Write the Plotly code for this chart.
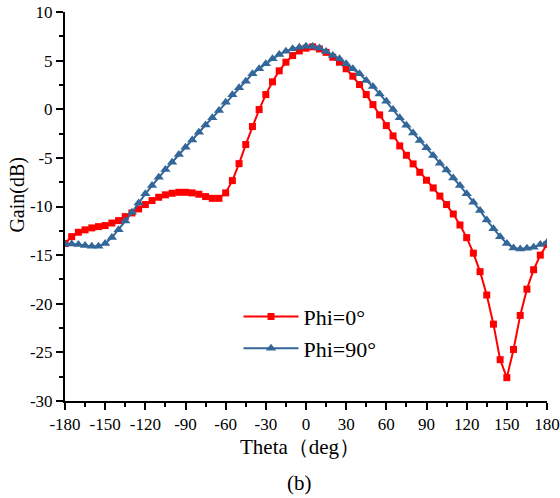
import plotly.graph_objects as go

theta = list(range(-180, 181, 5))

gain_phi0 = [
    -13.8, -13.1, -12.65, -12.4, -12.2, -12.07, -11.96, -11.7, -11.45, -11.04,
    -10.66, -10.25, -9.8, -9.39, -9.05, -8.8, -8.64, -8.54, -8.54, -8.6,
    -8.74, -8.98, -9.16, -9.16, -8.6, -7.34, -5.59, -3.63, -1.78, -0.03,
    1.51, 2.82, 3.95, 4.84, 5.52, 6.0, 6.28, 6.42, 6.2, 5.85,
    5.35, 4.84, 4.16, 3.4, 2.54, 1.51, 0.48, -0.58, -1.68, -2.74,
    -3.77, -4.73, -5.62, -6.48, -7.3, -8.09, -8.93, -9.8, -10.77, -11.9,
    -13.2, -14.8, -16.7, -19.1, -22.1, -25.75, -27.6, -24.7, -21.2, -18.5,
    -16.5, -15.0, -13.9,
]

gain_phi90 = [
    -13.85, -13.85, -13.9, -14.0, -14.1, -14.1, -13.8, -13.2, -12.4, -11.5,
    -10.6, -9.63, -8.7, -7.85, -7.0, -6.2, -5.45, -4.66, -3.91, -3.15,
    -2.37, -1.62, -0.88, -0.13, 0.72, 1.48, 2.2, 2.88, 3.64, 4.16,
    4.67, 5.18, 5.63, 5.97, 6.21, 6.38, 6.48, 6.45, 6.3, 5.95,
    5.52, 5.18, 4.67, 4.16, 3.64, 2.95, 2.34, 1.58, 0.82, -0.03,
    -0.88, -1.65, -2.43, -3.22, -3.97, -4.76, -5.55, -6.24, -7.06, -7.85,
    -8.7, -9.57, -10.4, -11.4, -12.3, -13.1, -13.8, -14.26, -14.36, -14.3,
    -14.2, -13.9, -13.7,
]

x_ticks = list(range(-180, 181, 30))
y_ticks = list(range(-30, 11, 5))

SERIF = "Liberation Serif"
RED = "#FF0000"
BLUE = "#336699"

fig = go.Figure()
fig.add_trace(go.Scatter(
    x=theta, y=gain_phi0, mode="lines+markers", name="Phi=0°",
    line=dict(color=RED, width=2),
    marker=dict(symbol="square", size=7, color=RED),
    legend="legend", showlegend=True,
))
fig.add_trace(go.Scatter(
    x=theta, y=gain_phi90, mode="lines+markers", name="Phi=90°",
    line=dict(color=BLUE, width=2),
    marker=dict(symbol="triangle-up", size=9, color=BLUE),
    legend="legend2", showlegend=True,
))

axis_common = dict(
    showline=True, linecolor="black", linewidth=2, mirror=False,
    showgrid=False, zeroline=False, automargin=False,
    ticks="outside", ticklen=7, tickwidth=1.5, tickcolor="black",
    tickfont=dict(family=SERIF, size=17, color="black"),
)

fig.update_layout(
    width=560, height=498,
    margin=dict(l=65, r=13, t=12, b=97),
    showlegend=True,
    plot_bgcolor="white", paper_bgcolor="white",
    xaxis=dict(range=[-180, 180], tickvals=x_ticks, ticktext=[str(v) for v in x_ticks],
               minor=dict(dtick=15, tick0=-180, ticks="outside", ticklen=4, tickwidth=1.5, tickcolor="black"),
               **axis_common),
    yaxis=dict(range=[-30, 10], tickvals=y_ticks, ticktext=[str(v) for v in y_ticks],
               minor=dict(dtick=2.5, tick0=-30, ticks="outside", ticklen=4, tickwidth=1.5, tickcolor="black"),
               **axis_common),
    legend=dict(x=0.36, y=0.217, xanchor="left", yanchor="middle",
                font=dict(family=SERIF, size=22, color="black"),
                bgcolor="rgba(0,0,0,0)", borderwidth=0, itemwidth=55),
    legend2=dict(x=0.36, y=0.135, xanchor="left", yanchor="middle",
                 font=dict(family=SERIF, size=22, color="black"),
                 bgcolor="rgba(0,0,0,0)", borderwidth=0, itemwidth=55),
    annotations=[
        dict(text="Gain(dB)", xref="paper", yref="paper", x=-0.098, y=0.53,
             xanchor="center", yanchor="middle", textangle=-90, showarrow=False,
             font=dict(family=SERIF, size=20, color="black")),
        dict(text="Theta（deg）", xref="paper", yref="paper", x=0.487, y=-0.118,
             xanchor="center", yanchor="middle", showarrow=False,
             font=dict(family=SERIF, size=21, color="black")),
        dict(text="(b)", xref="paper", yref="paper", x=0.487, y=-0.212,
             xanchor="center", yanchor="middle", showarrow=False,
             font=dict(family=SERIF, size=21, color="black")),
    ],
)

fig.write_html("out.html")
